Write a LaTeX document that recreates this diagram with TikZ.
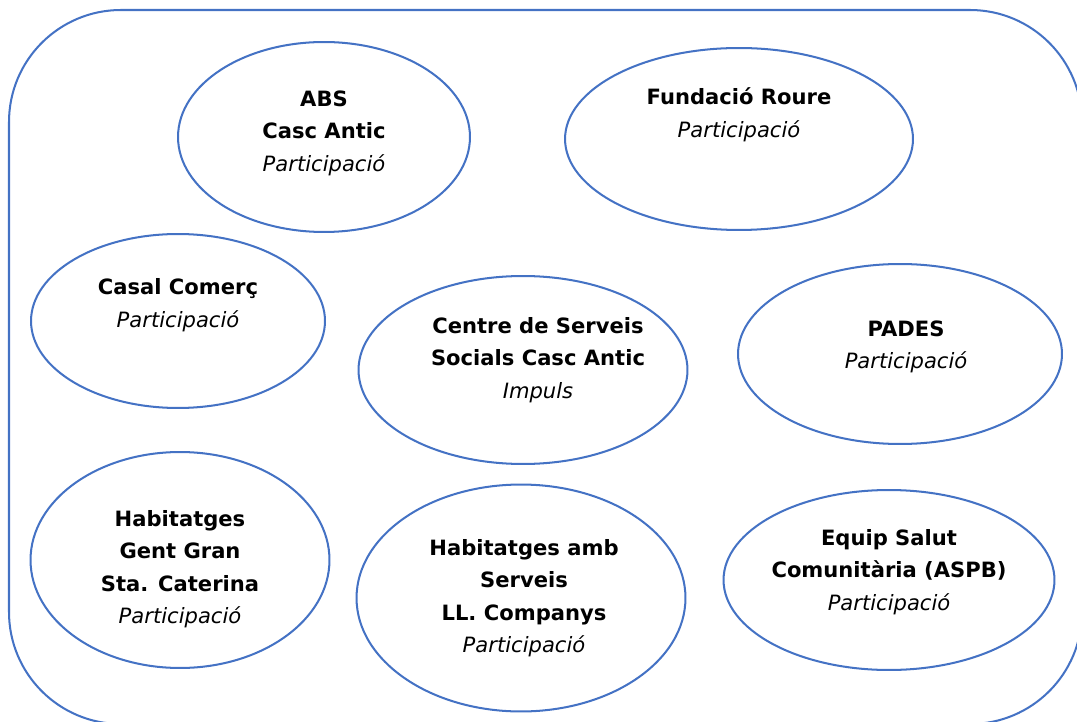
\documentclass[tikz,border=0pt]{standalone}
\usepackage{fontspec}
\setmainfont{DejaVu Sans}
\usetikzlibrary{shapes.geometric}
\definecolor{lineblue}{HTML}{4472C4}
\tikzset{
  oval/.style={draw=lineblue, line width=1.15pt, ellipse, inner sep=0pt},
  lbl/.style={align=center, font=\fontsize{12}{18.5}\selectfont, text=black, inner sep=0pt},
  frame/.style={draw=lineblue, line width=1.15pt, rounded corners=2.24cm}
}
\newcommand{\pt}[1]{\textit{#1}}
\begin{document}
\begin{tikzpicture}[x=0.02cm,y=-0.02cm]
\path[use as bounding box] (0,0) rectangle (1077,722);
\clip (0,0) rectangle (1077,722);
\path[frame] (9,10) rectangle (1082,724);
% ellipses
\node[oval, minimum width=5.84cm, minimum height=3.8cm] (e1) at (324,137) {};
\node[oval, minimum width=6.96cm, minimum height=3.64cm] (e2) at (739,139) {};
\node[oval, minimum width=5.88cm, minimum height=3.48cm] (e3) at (178,321) {};
\node[oval, minimum width=6.58cm, minimum height=3.76cm] (e4) at (523,370) {};
\node[oval, minimum width=6.48cm, minimum height=3.6cm] (e5) at (900,354) {};
\node[oval, minimum width=5.98cm, minimum height=4.32cm] (e6) at (180,560) {};
\node[oval, minimum width=6.58cm, minimum height=4.54cm] (e7) at (521,598) {};
\node[oval, minimum width=6.62cm, minimum height=3.6cm] (e8) at (889,580) {};
% labels
\node[lbl] (t1) at (324,133) {\textbf{ABS}\\\textbf{Casc Antic}\\\pt{Participació}};
\node[lbl] (t2) at (739,115) {\textbf{Fundació Roure}\\\pt{Participació}};
\node[lbl] (t3) at (178,305) {\textbf{Casal Comerç}\\\pt{Participació}};
\node[lbl] (t4) at (538,360) {\textbf{Centre de Serveis}\\\textbf{Socials Casc Antic}\\\pt{Impuls}};
\node[lbl] (t5) at (906,347) {\textbf{PADES}\\\pt{Participació}};
\node[lbl] (t6) at (180,569) {\textbf{Habitatges}\\\textbf{Gent Gran}\\\textbf{Sta. Caterina}\\\pt{Participació}};
\node[lbl] (t7) at (524,598) {\textbf{Habitatges amb}\\\textbf{Serveis}\\\textbf{LL. Companys}\\\pt{Participació}};
\node[lbl] (t8) at (889,572) {\textbf{Equip Salut}\\\textbf{Comunitària (ASPB)}\\\pt{Participació}};
\end{tikzpicture}
\end{document}
